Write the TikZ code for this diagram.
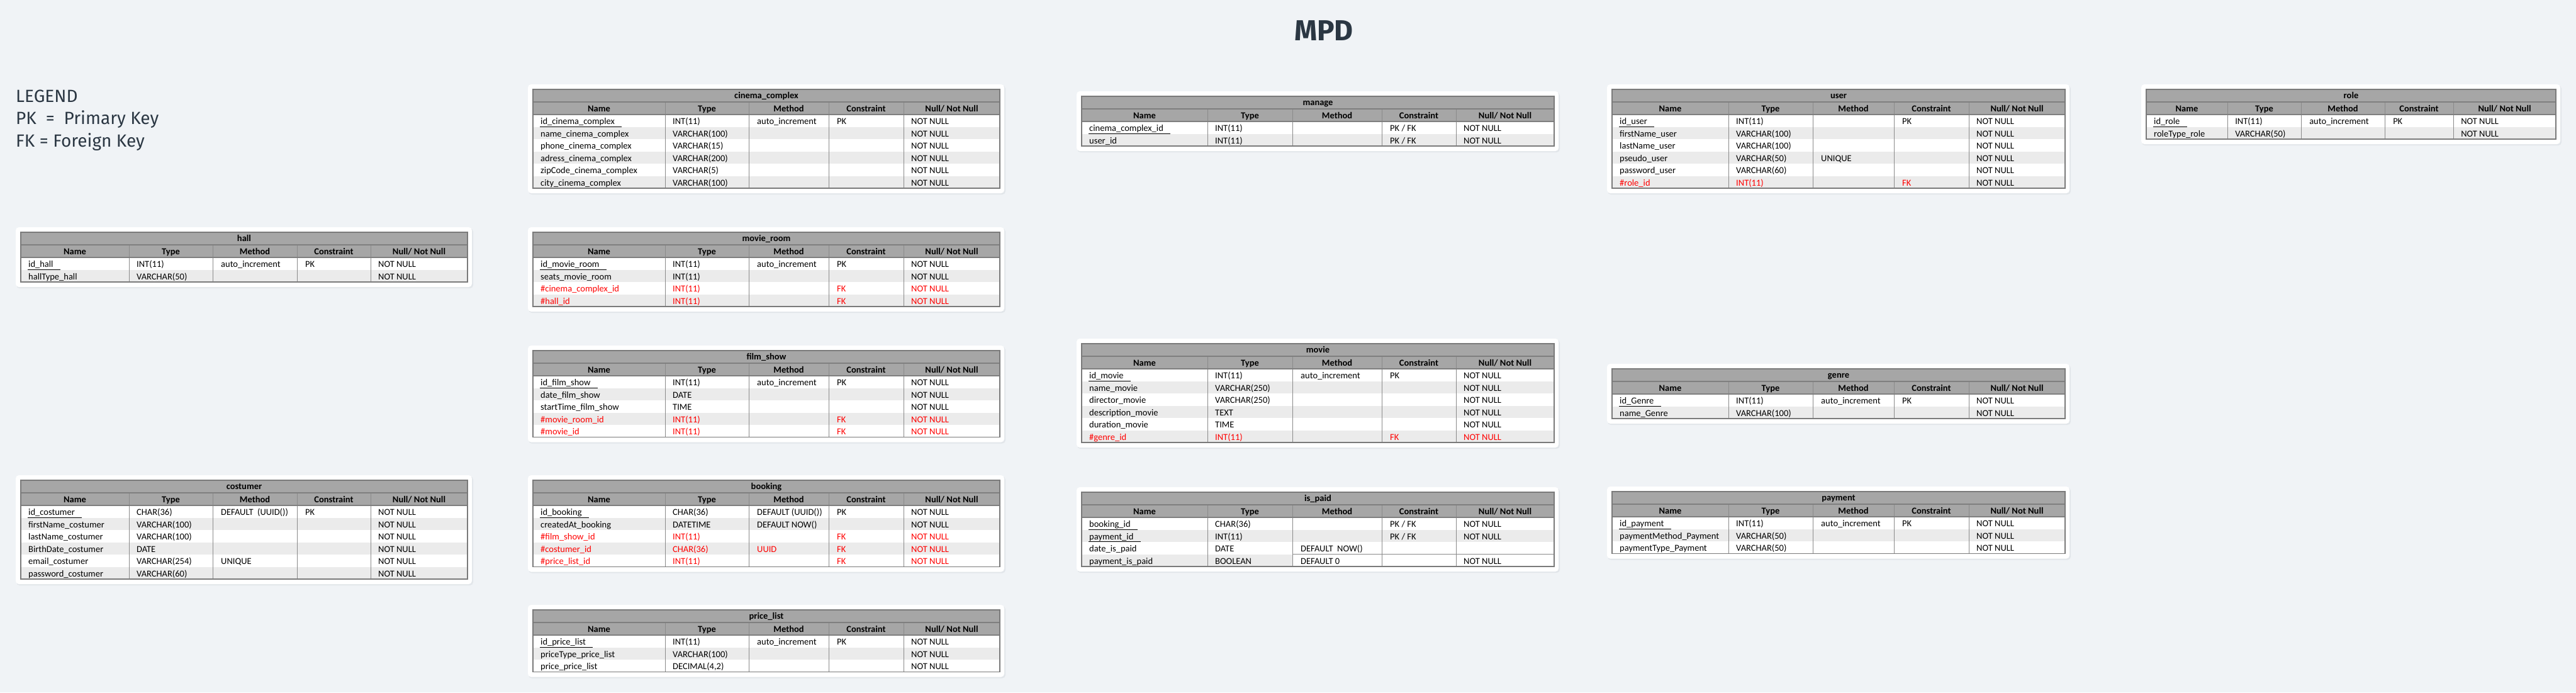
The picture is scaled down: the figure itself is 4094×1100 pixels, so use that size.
\documentclass[tikz,border=0pt]{standalone}
\usepackage{fontspec}
\setmainfont{Carlito}
\newfontfamily\legfont{Fira Sans}
\usepackage{etoolbox}
\usetikzlibrary{calc}
\definecolor{bgcol}{HTML}{F0F3F6}
\definecolor{shadowc}{HTML}{E2E6EA}
\definecolor{hdrgray}{HTML}{A6A6A6}
\definecolor{rowgray}{HTML}{EBEBEB}
\definecolor{gridgray}{HTML}{8A8A8A}
\definecolor{sepgray}{HTML}{7F7F7F}
\definecolor{outgray}{HTML}{7A7A7A}
\definecolor{fkred}{HTML}{FF0000}
\definecolor{inkc}{HTML}{2B3743}
\newcommand\cellfont{\fontsize{14.5}{17}\selectfont}
\newcommand\headfont{\fontsize{14.5}{17}\selectfont\bfseries}
\newcommand\rd{\color{fkred}}
\tikzset{
  shadowbox/.style={fill=shadowc, rounded corners=5pt},
  cardbox/.style={fill=white, rounded corners=5pt},
  titlefill/.style={fill=hdrgray},
  altfill/.style={fill=rowgray},
  celltext/.style={anchor=base west, inner sep=0pt, font=\cellfont, text=black},
  headtext/.style={anchor=base, inner sep=0pt, font=\headfont, text=black},
  gridline/.style={draw=gridgray, line width=0.8pt},
  sepline/.style={draw=sepgray, line width=1.6pt},
  outerline/.style={draw=outgray, line width=1.6pt},
  pkline/.style={draw=black, line width=1pt},
  legendtext/.style={anchor=base west, inner sep=0pt, font=\legfont\fontsize{28}{32}\selectfont, text=inkc},
  titletext/.style={anchor=center, inner sep=0pt, font=\legfont\bfseries\fontsize{46}{50}\selectfont, text=inkc}
}
\newcommand\setcols[6]{\def\tcA{#1}\def\tcB{#2}\def\tcC{#3}\def\tcD{#4}\def\tcE{#5}\def\tcF{#6}}
\def\fillend{\tcF}
% #1 prefix, #2 top, #3 rows, #4 title
\newcommand\tstart[4]{%
  \def\tp{#1}\def\ttop{#2}%
  \pgfmathsetmacro\tbot{#2+40+#3*19.5}%
  \pgfmathsetmacro\thd{#2+20}%
  \pgfmathsetmacro\tdt{#2+40}%
  \path[shadowbox] (\tcA-7,\ttop-6) rectangle (\tcF+9,\tbot+10);
  \path[cardbox] (\tcA-8,\ttop-8) rectangle (\tcF+7,\tbot+8);
  \path[titlefill] (\tcA,\ttop) rectangle (\tcF,\tdt);
  \node[headtext] (#1-t) at ({(\tcA+\tcF)/2},\ttop+14) {#4};
  \node[headtext] (#1-h1) at ({(\tcA+\tcB)/2},\ttop+35.5) {Name};
  \node[headtext] (#1-h2) at ({(\tcB+\tcC)/2},\ttop+35.5) {Type};
  \node[headtext] (#1-h3) at ({(\tcC+\tcD)/2},\ttop+35.5) {Method};
  \node[headtext] (#1-h4) at ({(\tcD+\tcE)/2},\ttop+35.5) {Constraint};
  \node[headtext] (#1-h5) at ({(\tcE+\tcF)/2},\ttop+35.5) {Null/ Not Null};
}
\newcommand\tcell[3]{\ifstrempty{#3}{}{\node[celltext] (\tp-#1) at ({#2},\ry+15.5) {#3};}}
% #1 index, #2..#6 cells
\newcommand\trow[6]{%
  \pgfmathsetmacro\ry{\tdt+(#1-1)*19.5}%
  \pgfmathsetmacro\rb{\ry+19.5}%
  \ifodd#1\relax\else\path[altfill] (\tcA,\ry) rectangle (\fillend,\rb);\fi
  \tcell{r#1a}{\tcA+12}{#2}%
  \tcell{r#1b}{\tcB+12}{#3}%
  \tcell{r#1c}{\tcC+13}{#4}%
  \tcell{r#1d}{\tcD+13}{#5}%
  \tcell{r#1e}{\tcE+12}{#6}%
}
\newcommand\pkul[1]{\draw[pkline] let \p1=(\tp-r#1a.base west), \p2=(\tp-r#1a.base east) in (\x1-1pt,\y1-3.8pt) -- (\x2+11pt,\y1-3.8pt);}
\newcommand\tfinish{%
  \foreach \xx in {\tcB,\tcC,\tcD,\tcE} {\draw[gridline] (\xx,\thd) -- (\xx,\tbot);}
  \draw[sepline] (\tcA,\thd) -- (\tcF,\thd);
  \draw[sepline] (\tcA,\tdt) -- (\tcF,\tdt);
  \draw[outerline] (\tcA,\ttop) rectangle (\tcF,\tbot);
}
\catcode`\_=12
\begin{document}
\begin{tikzpicture}[x=1pt,y=-1pt]
\useasboundingbox (0,0) rectangle (4094,1100);
\fill[bgcol] (0,0) rectangle (4094,1100);

\node[titletext] (mpd) at (2104,49) {MPD};
\node[legendtext] (leg1) at (25,162) {LEGEND};
\node[legendtext] (leg2) at (25,197) {PK~~=~~Primary Key};
\node[legendtext] (leg3) at (25,233) {FK = Foreign Key};

% ---------- column 1 ----------
\setcols{33}{205}{338}{472}{589}{743}
\tstart{hl}{369}{2}{hall}
\trow{1}{id_hall}{INT(11)}{auto_increment}{PK}{NOT NULL}
\pkul{1}
\trow{2}{hallType_hall}{VARCHAR(50)}{}{}{NOT NULL}
\tfinish

\tstart{cu}{763}{6}{costumer}
\trow{1}{id_costumer}{CHAR(36)}{DEFAULT~~(UUID())}{PK}{NOT NULL}
\pkul{1}
\trow{2}{firstName_costumer}{VARCHAR(100)}{}{}{NOT NULL}
\trow{3}{lastName_costumer}{VARCHAR(100)}{}{}{NOT NULL}
\trow{4}{BirthDate_costumer}{DATE}{}{}{NOT NULL}
\trow{5}{email_costumer}{VARCHAR(254)}{UNIQUE}{}{NOT NULL}
\trow{6}{password_costumer}{VARCHAR(60)}{}{}{NOT NULL}
\tfinish

% ---------- column 2 ----------
\setcols{847}{1057}{1190}{1317}{1436}{1589}
\tstart{cc}{142}{6}{cinema_complex}
\trow{1}{id_cinema_complex}{INT(11)}{auto_increment}{PK}{NOT NULL}
\pkul{1}
\trow{2}{name_cinema_complex}{VARCHAR(100)}{}{}{NOT NULL}
\trow{3}{phone_cinema_complex}{VARCHAR(15)}{}{}{NOT NULL}
\trow{4}{adress_cinema_complex}{VARCHAR(200)}{}{}{NOT NULL}
\trow{5}{zipCode_cinema_complex}{VARCHAR(5)}{}{}{NOT NULL}
\trow{6}{city_cinema_complex}{VARCHAR(100)}{}{}{NOT NULL}
\tfinish

\tstart{mr}{369}{4}{movie_room}
\trow{1}{id_movie_room}{INT(11)}{auto_increment}{PK}{NOT NULL}
\pkul{1}
\trow{2}{seats_movie_room}{INT(11)}{}{}{NOT NULL}
\trow{3}{\rd\#cinema_complex_id}{\rd INT(11)}{}{\rd FK}{\rd NOT NULL}
\trow{4}{\rd\#hall_id}{\rd INT(11)}{}{\rd FK}{\rd NOT NULL}
\tfinish

\tstart{fs}{557}{5}{film_show}
\trow{1}{id_film_show}{INT(11)}{auto_increment}{PK}{NOT NULL}
\pkul{1}
\trow{2}{date_film_show}{DATE}{}{}{NOT NULL}
\trow{3}{startTime_film_show}{TIME}{}{}{NOT NULL}
\trow{4}{\rd\#movie_room_id}{\rd INT(11)}{}{\rd FK}{\rd NOT NULL}
\trow{5}{\rd\#movie_id}{\rd INT(11)}{}{\rd FK}{\rd NOT NULL}
\tfinish

\tstart{bk}{763}{5}{booking}
\trow{1}{id_booking}{CHAR(36)}{DEFAULT (UUID())}{PK}{NOT NULL}
\pkul{1}
\trow{2}{createdAt_booking}{DATETIME}{DEFAULT NOW()}{}{NOT NULL}
\trow{3}{\rd\#film_show_id}{\rd INT(11)}{}{\rd FK}{\rd NOT NULL}
\trow{4}{\rd\#costumer_id}{\rd CHAR(36)}{\rd UUID}{\rd FK}{\rd NOT NULL}
\trow{5}{\rd\#price_list_id}{\rd INT(11)}{}{\rd FK}{\rd NOT NULL}
\tfinish

\tstart{pl}{969}{3}{price_list}
\trow{1}{id_price_list}{INT(11)}{auto_increment}{PK}{NOT NULL}
\pkul{1}
\trow{2}{priceType_price_list}{VARCHAR(100)}{}{}{NOT NULL}
\trow{3}{price_price_list}{DECIMAL(4,2)}{}{}{NOT NULL}
\tfinish

% ---------- column 3 ----------
\setcols{1719}{1919}{2054}{2196}{2314}{2470}
\tstart{mg}{153}{2}{manage}
\trow{1}{cinema_complex_id}{INT(11)}{}{PK / FK}{NOT NULL}
\pkul{1}
\trow{2}{user_id}{INT(11)}{}{PK / FK}{NOT NULL}
\pkul{2}
\tfinish

\tstart{mv}{546}{6}{movie}
\trow{1}{id_movie}{INT(11)}{auto_increment}{PK}{NOT NULL}
\pkul{1}
\trow{2}{name_movie}{VARCHAR(250)}{}{}{NOT NULL}
\trow{3}{director_movie}{VARCHAR(250)}{}{}{NOT NULL}
\trow{4}{description_movie}{TEXT}{}{}{NOT NULL}
\trow{5}{duration_movie}{TIME}{}{}{NOT NULL}
\trow{6}{\rd\#genre_id}{\rd INT(11)}{}{\rd FK}{\rd NOT NULL}
\tfinish

\tstart{ip}{782}{4}{is_paid}
\trow{1}{booking_id}{CHAR(36)}{}{PK / FK}{NOT NULL}
\pkul{1}
\trow{2}{payment_id}{INT(11)}{}{PK / FK}{NOT NULL}
\pkul{2}
\trow{3}{date_is_paid}{DATE}{DEFAULT~~NOW()}{}{}
\def\fillend{\tcC}
\trow{4}{payment_is_paid}{BOOLEAN}{DEFAULT 0}{}{NOT NULL}
\def\fillend{\tcF}
\draw[gridline] (\tcC,\ry) -- (\tcF,\ry);
\tfinish

% ---------- column 4 ----------
\setcols{2562}{2747}{2881}{3010}{3129}{3282}
\tstart{us}{142}{6}{user}
\trow{1}{id_user}{INT(11)}{}{PK}{NOT NULL}
\pkul{1}
\trow{2}{firstName_user}{VARCHAR(100)}{}{}{NOT NULL}
\trow{3}{lastName_user}{VARCHAR(100)}{}{}{NOT NULL}
\trow{4}{pseudo_user}{VARCHAR(50)}{UNIQUE}{}{NOT NULL}
\trow{5}{password_user}{VARCHAR(60)}{}{}{NOT NULL}
\trow{6}{\rd\#role_id}{\rd INT(11)}{}{\rd FK}{NOT NULL}
\tfinish

\tstart{gn}{586}{2}{genre}
\trow{1}{id_Genre}{INT(11)}{auto_increment}{PK}{NOT NULL}
\pkul{1}
\trow{2}{name_Genre}{VARCHAR(100)}{}{}{NOT NULL}
\tfinish

\tstart{pm}{781}{3}{payment}
\trow{1}{id_payment}{INT(11)}{auto_increment}{PK}{NOT NULL}
\pkul{1}
\trow{2}{paymentMethod_Payment}{VARCHAR(50)}{}{}{NOT NULL}
\trow{3}{paymentType_Payment}{VARCHAR(50)}{}{}{NOT NULL}
\tfinish

% ---------- column 5 ----------
\setcols{3411}{3540}{3657}{3790}{3899}{4062}
\tstart{rl}{142}{2}{role}
\trow{1}{id_role}{INT(11)}{auto_increment}{PK}{NOT NULL}
\pkul{1}
\trow{2}{roleType_role}{VARCHAR(50)}{}{}{NOT NULL}
\tfinish
\end{tikzpicture}
\end{document}
